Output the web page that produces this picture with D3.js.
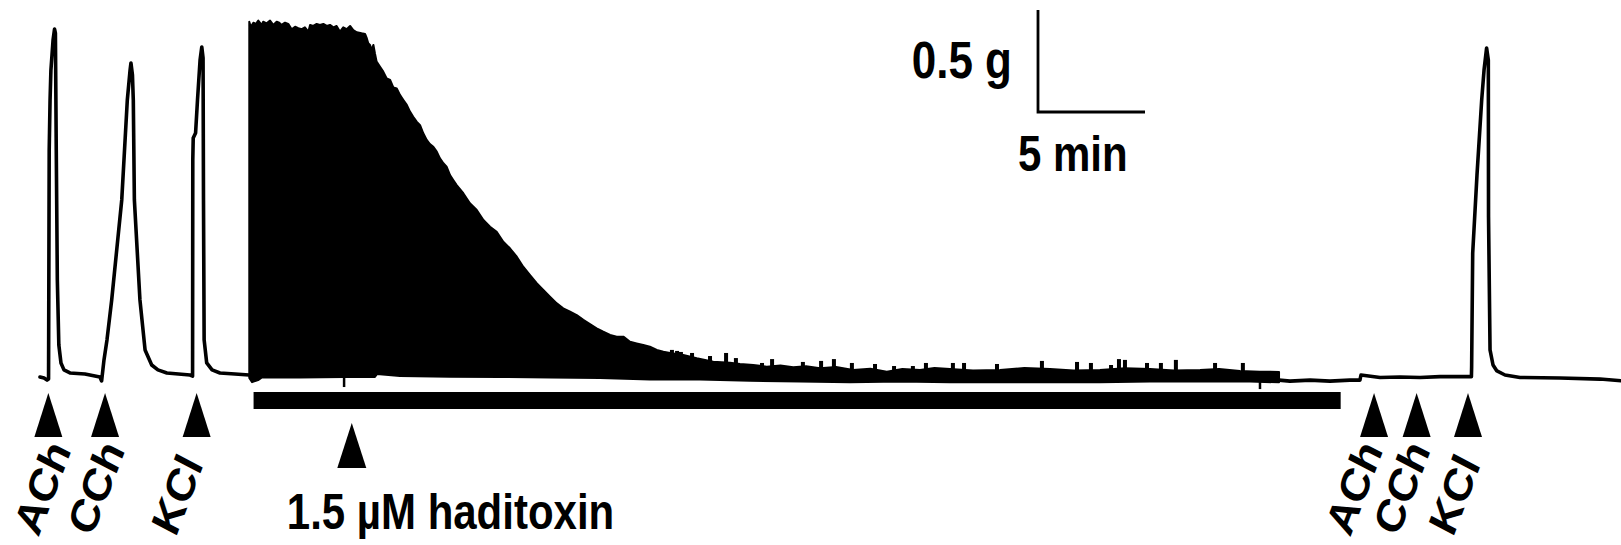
<!DOCTYPE html>
<html>
<head>
<meta charset="utf-8">
<script src="https://cdn.jsdelivr.net/npm/d3@7"></script>
<style>
  html, body { margin: 0; padding: 0; background: #fff; }
  svg { display: block; }
  text { font-family: "Liberation Sans", Arial, Helvetica, sans-serif; font-weight: bold; fill: #000; }
</style>
</head>
<body>
<svg id="chart" width="1621" height="545"></svg>
<script>
// Isometric tension recording: time in minutes, tension in grams above baseline.

// Control responses before toxin (ACh, CCh, KCl)
const preTrace = [
  [0.00,-0.010],[0.19,-0.015],[0.33,-0.025],[0.40,-0.020],[0.43,1.103],[0.47,1.348],
  [0.51,1.495],[0.61,1.642],[0.68,1.696],[0.72,1.676],[0.76,1.103],[0.81,0.466],
  [0.88,0.147],[0.98,0.059],[1.12,0.025],[1.40,0.010],[2.10,0.005],[2.80,-0.010],
  [2.88,-0.029],[2.99,0.074],[3.13,0.172],[3.35,0.368],[3.82,0.858],[4.08,1.348],
  [4.21,1.495],[4.25,1.529],[4.32,1.471],[4.36,1.348],[4.41,0.858],[4.67,0.368],
  [4.91,0.123],[5.22,0.049],[5.51,0.025],[5.93,0.010],[7.01,0.000],[7.13,-0.005],
  [7.14,1.054],[7.16,1.162],[7.27,1.186],[7.36,1.348],[7.48,1.544],[7.56,1.608],
  [7.62,1.554],[7.64,0.858],[7.67,0.172],[7.79,0.059],[8.04,0.025],[8.41,0.010],
  [9.11,0.005],[9.77,0.000]
];

// Upper envelope of the spontaneous twitch activity during toxin exposure
const blockTop = [
  [9.78,1.732],[9.85,1.707],[9.97,1.727],[10.09,1.721],[10.20,1.737],[10.36,1.716],
  [10.43,1.732],[10.59,1.724],[10.75,1.737],[10.90,1.716],[11.06,1.732],[11.18,1.727],
  [11.29,1.716],[11.45,1.727],[11.60,1.721],[11.76,1.695],[11.92,1.707],[12.07,1.700],
  [12.23,1.695],[12.38,1.704],[12.54,1.683],[12.62,1.716],[12.77,1.711],[12.93,1.721],
  [13.08,1.716],[13.24,1.721],[13.40,1.711],[13.55,1.716],[13.71,1.704],[13.86,1.711],
  [14.02,1.683],[14.17,1.704],[14.33,1.695],[14.49,1.711],[14.64,1.691],[14.80,1.680],
  [15.03,1.675],[15.19,1.672],[15.27,1.651],[15.34,1.626],[15.42,1.618],[15.50,1.593],
  [15.58,1.618],[15.65,1.577],[15.73,1.536],[15.89,1.511],[16.04,1.487],[16.20,1.454],
  [16.36,1.446],[16.51,1.410],[16.67,1.405],[16.82,1.373],[16.98,1.348],[17.14,1.324],
  [17.29,1.291],[17.44,1.266],[17.60,1.242],[17.76,1.225],[17.91,1.185],[18.07,1.152],
  [18.22,1.132],[18.38,1.119],[18.54,1.095],[18.69,1.062],[18.85,1.038],[19.00,1.021],
  [19.16,0.980],[19.31,0.956],[19.47,0.931],[19.78,0.891],[20.09,0.842],[20.41,0.809],
  [20.72,0.760],[21.03,0.727],[21.34,0.702],[21.65,0.653],[21.96,0.621],[22.28,0.580],
  [22.58,0.531],[22.90,0.490],[23.21,0.450],[23.52,0.417],[23.83,0.384],[24.15,0.351],
  [24.45,0.327],[24.77,0.310],[25.08,0.294],[25.39,0.270],[25.70,0.250],[26.01,0.229],
  [26.32,0.212],[26.64,0.196],[26.95,0.188],[27.26,0.188],[27.57,0.163],[27.88,0.155],
  [28.19,0.147],[28.50,0.139],[28.82,0.123],[29.13,0.114],[29.44,0.108],[30.06,0.098],
  [30.69,0.082],[31.46,0.065],[32.24,0.060],[32.71,0.054],[33.33,0.049],[33.96,0.041],
  [34.60,0.046],[35.20,0.038],[35.80,0.043],[36.45,0.033],[37.20,0.039],[38.00,0.025],
  [38.80,0.031],[39.57,0.016],[40.30,0.030],[41.12,0.025],[41.80,0.034],[42.52,0.029],
  [43.60,0.022],[44.86,0.025],[46.00,0.034],[47.20,0.029],[48.30,0.022],[49.53,0.025],
  [50.70,0.033],[51.87,0.029],[53.00,0.022],[54.21,0.025],[55.10,0.030],[56.07,0.020],
  [57.00,0.016],[57.90,0.015]
];

// Lower envelope of the same activity
const blockBottom = [
  [9.78,-0.015],[9.91,-0.035],[10.19,-0.025],[10.37,-0.012],[12.15,-0.012],[14.21,-0.010],
  [15.65,-0.010],[15.75,0.005],[16.82,-0.005],[19.16,-0.008],[21.50,-0.010],[23.83,-0.012],
  [26.17,-0.015],[28.50,-0.022],[30.84,-0.022],[33.18,-0.028],[35.51,-0.032],[37.85,-0.036],
  [40.19,-0.032],[42.52,-0.036],[44.86,-0.036],[47.20,-0.036],[49.53,-0.036],[51.87,-0.032],
  [54.21,-0.032],[56.54,-0.032],[57.90,-0.036]
];

// Isolated twitches rising above the residual activity
const spikes = [
  [29.53,0.123],[29.77,0.118],[29.95,0.113],[30.47,0.108],[31.31,0.093],[32.06,0.108],
  [32.52,0.083],[33.74,0.059],[34.21,0.078],[35.65,0.064],[36.50,0.069],[37.10,0.078],
  [37.94,0.059],[39.02,0.054],[39.91,0.044],[40.79,0.044],[41.40,0.059],[42.66,0.059],
  [43.18,0.059],[44.72,0.054],[46.82,0.069],[48.46,0.064],[49.11,0.059],[50.05,0.049],
  [50.42,0.078],[50.70,0.074],[51.73,0.059],[52.38,0.059],[53.08,0.074],[54.91,0.059],
  [56.21,0.059]
];

// Brief downward artefacts
const dips = [[14.21,-0.059],[57.01,-0.069]];

// Responses after toxin washout
const postTrace = [
  [57.90,-0.025],[58.41,-0.030],[59.35,-0.025],[60.28,-0.030],[61.21,-0.025],[61.68,-0.025],
  [61.73,0.000],[62.62,-0.012],[63.55,-0.010],[64.49,-0.012],[65.42,-0.008],[66.36,-0.008],
  [66.89,-0.008],[66.90,0.039],[66.95,0.598],[67.15,0.980],[67.37,1.348],[67.48,1.495],
  [67.60,1.603],[67.68,1.544],[67.69,0.775],[67.76,0.123],[67.90,0.049],[68.08,0.020],
  [68.46,0.000],[69.16,-0.012],[71.03,-0.015],[72.90,-0.020],[73.88,-0.028]
];

// Drug additions
const markerNames = ["ACh", "CCh", "KCl", "ACh", "CCh", "KCl"];
const markerTimes = [0.39, 3.04, 7.32, 62.34, 64.33, 66.73];
const toxinTime = 14.57;
const toxinLabel = "1.5 \u00B5M haditoxin";
const toxinPeriod = [9.98, 60.78];

// Calibration bars
const scaleTension = 0.5;
const scaleTime = 5;
const scaleTensionLabel = "0.5 g";
const scaleTimeLabel = "5 min";

const svg = d3.select("#chart");
const W = 1621, H = 545;
svg.append("rect").attr("width", W).attr("height", H).attr("fill", "#fff");

const x = d3.scaleLinear().domain([0, 73.88]).range([40, 1621]);
const y = d3.scaleLinear().domain([0, 1.8]).range([375, 7.8]);

const line = d3.line().x(d => x(d[0])).y(d => y(d[1]));

// Toxin activity as a filled band between the envelopes
const band = blockTop.concat(blockBottom.slice().reverse());
svg.append("path")
  .attr("d", line(band) + "Z")
  .attr("fill", "#000")
  .attr("stroke", "#000")
  .attr("stroke-width", 2)
  .attr("stroke-linejoin", "round");

svg.selectAll("rect.spike").data(spikes).join("rect")
  .attr("class", "spike")
  .attr("x", d => x(d[0]) - 2)
  .attr("width", 4)
  .attr("y", d => y(d[1]))
  .attr("height", d => y(0) - y(d[1]))
  .attr("fill", "#000");

svg.selectAll("rect.dip").data(dips).join("rect")
  .attr("class", "dip")
  .attr("x", d => x(d[0]) - 1.25)
  .attr("width", 2.5)
  .attr("y", y(0))
  .attr("height", d => y(d[1]) - y(0))
  .attr("fill", "#000");

// Tension trace
[preTrace, postTrace].forEach(seg => {
  svg.append("path")
    .attr("d", line(seg))
    .attr("fill", "none")
    .attr("stroke", "#000")
    .attr("stroke-width", 3.6)
    .attr("stroke-linejoin", "round")
    .attr("stroke-linecap", "round");
});

// Toxin exposure bar
svg.append("rect")
  .attr("x", x(toxinPeriod[0]))
  .attr("width", x(toxinPeriod[1]) - x(toxinPeriod[0]))
  .attr("y", 392)
  .attr("height", 17)
  .attr("fill", "#000");

// Arrowheads for drug additions
function arrow(cx, top, h, w) {
  return `M${cx},${top}L${cx + w / 2},${top + h}L${cx - w / 2},${top + h}Z`;
}
svg.selectAll("path.marker").data(markerTimes).join("path")
  .attr("class", "marker")
  .attr("d", t => arrow(x(t), 393, 44, 28))
  .attr("fill", "#000");

svg.append("path")
  .attr("d", arrow(x(toxinTime), 423, 45, 29))
  .attr("fill", "#000");

// Tilted drug names
const stretch = 1.17;
const labelOffsets = [-10, -13, -21, -24, -19, -15];
markerTimes.forEach((t, i) => {
  svg.append("g")
    .attr("transform", `translate(${x(t) + labelOffsets[i]},538) scale(1,${stretch}) rotate(-66)`)
    .append("text")
    .attr("font-size", 40)
    .text(markerNames[i]);
});

svg.append("g")
  .attr("transform", `translate(${x(toxinTime) - 65},529) scale(1,${stretch})`)
  .append("text")
  .attr("font-size", 42)
  .text(toxinLabel);

// Calibration bars
const cornerX = 1038, cornerY = 112;
svg.append("path")
  .attr("d", `M${cornerX},${cornerY - (y(0) - y(scaleTension))}V${cornerY}H${cornerX + (x(scaleTime) - x(0))}`)
  .attr("fill", "none")
  .attr("stroke", "#000")
  .attr("stroke-width", 2.8);

svg.append("g")
  .attr("transform", `translate(1012,78) scale(1,${stretch})`)
  .append("text")
  .attr("font-size", 44)
  .attr("text-anchor", "end")
  .text(scaleTensionLabel);

svg.append("g")
  .attr("transform", `translate(1018,171) scale(1,${stretch})`)
  .append("text")
  .attr("font-size", 42)
  .text(scaleTimeLabel);
</script>
</body>
</html>
